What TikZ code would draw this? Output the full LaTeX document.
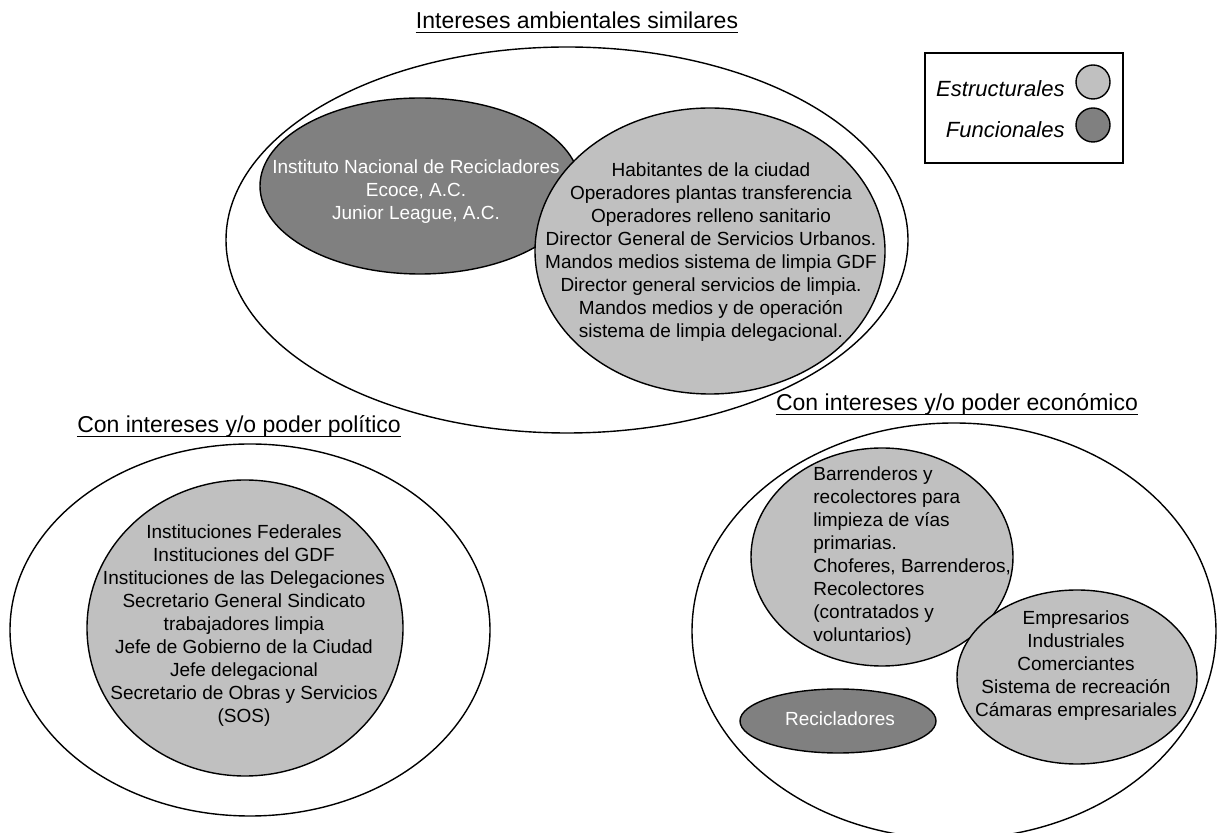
\documentclass[tikz,border=0pt]{standalone}
\usepackage{fontspec}
\setmainfont{Liberation Sans}
\usepackage{tikz}
\usetikzlibrary{shapes.geometric, calc}
\usepackage{xcolor}
\definecolor{GrisClaro}{HTML}{C0C0C0}
\definecolor{GrisOscuro}{HTML}{808080}
\tikzset{
  grupo/.style={
    ellipse, draw=black, line width=0.7pt, inner sep=0pt
  },
  estructural/.style={grupo, fill=GrisClaro},
  funcional/.style={grupo, fill=GrisOscuro},
  texto/.style={
    font=\fontsize{9.5}{11.5}\selectfont, align=center, inner sep=0pt
  },
  titulo/.style={
    font=\fontsize{11.5}{14}\selectfont, inner sep=0pt, anchor=base
  },
  subrayado/.style={line width=0.6pt}
}

\begin{document}
\begin{tikzpicture}[x=0.5pt, y=-0.5pt]

\useasboundingbox (0,0) rectangle (1217,833);

% ── Outer groups ──────────────────────────────────────────────────────────────

\node[grupo, minimum width=341pt, minimum height=193pt] (ambientales) at (567,240) {};
\node[grupo, minimum width=240pt, minimum height=186pt] (politico) at (250,630) {};
\node[grupo, minimum width=262pt, minimum height=208pt] (economico) at (954,631) {};

% ── Titles (underlined) ───────────────────────────────────────────────────────

\node[titulo] (tAmb) at (577,29) {Intereses ambientales similares};
\node[titulo] (tPol) at (239,433) {Con intereses y/o poder político};
\node[titulo] (tEco) at (957,411) {Con intereses y/o poder económico};

\draw[subrayado] ($(tAmb.base west)+(0,3.5)$) -- ($(tAmb.base east)+(0,3.5)$);
\draw[subrayado] ($(tPol.base west)+(0,3.5)$) -- ($(tPol.base east)+(0,3.5)$);
\draw[subrayado] ($(tEco.base west)+(0,3.5)$) -- ($(tEco.base east)+(0,3.5)$);

% ── Intereses ambientales ─────────────────────────────────────────────────────

\node[funcional, minimum width=160pt, minimum height=88pt] (inst) at (420,186) {};
\node[estructural, minimum width=175pt, minimum height=143pt] (habit) at (710,251) {};

\node[texto, text=white] at (416,192) {%
  Instituto Nacional de Recicladores\\
  Ecoce, A.C.\\
  Junior League, A.C.
};

\node[texto] at (711,252) {%
  Habitantes de la ciudad\\
  Operadores plantas transferencia\\
  Operadores relleno sanitario\\
  Director General de Servicios Urbanos.\\
  Mandos medios sistema de limpia GDF\\
  Director general servicios de limpia.\\
  Mandos medios y de operación\\
  sistema de limpia delegacional.
};

% ── Poder político ────────────────────────────────────────────────────────────

\node[estructural, minimum width=158pt, minimum height=148pt] (federales) at (245,628) {};

\node[texto] at (244,626) {%
  Instituciones Federales\\
  Instituciones del GDF\\
  Instituciones de las Delegaciones\\
  Secretario General Sindicato\\
  trabajadores limpia\\
  Jefe de Gobierno de la Ciudad\\
  Jefe delegacional\\
  Secretario de Obras y Servicios\\
  (SOS)
};

% ── Poder económico ───────────────────────────────────────────────────────────

\node[estructural, minimum width=131pt, minimum height=109pt] (barrenderos) at (882,557) {};
\node[estructural, minimum width=120pt, minimum height=87pt] (empresarios) at (1077,677) {};
\node[funcional, minimum width=98pt, minimum height=32pt] (recicladores) at (838,721) {};

\node[texto, align=left, anchor=west] at (813,556) {%
  Barrenderos y\\
  recolectores para\\
  limpieza de vías\\
  primarias.\\
  Choferes, Barrenderos,\\
  Recolectores\\
  (contratados y\\
  voluntarios)
};

\node[texto] at (1076,666) {%
  Empresarios\\
  Industriales\\
  Comerciantes\\
  Sistema de recreación\\
  Cámaras empresariales
};

\node[texto, text=white] at (840,719) {Recicladores};

% ── Legend ────────────────────────────────────────────────────────────────────

\node[draw=black, line width=0.7pt, minimum width=99pt, minimum height=55pt, inner sep=0pt] (leyenda) at (1024,108) {};
\node[estructural, minimum width=17pt, minimum height=17pt] (cEst) at (1093,82) {};
\node[funcional, minimum width=17pt, minimum height=17pt] (cFun) at (1093,125) {};
\node[font=\fontsize{11}{13}\selectfont\itshape, inner sep=0pt, anchor=east] at (1065,89) {Estructurales};
\node[font=\fontsize{11}{13}\selectfont\itshape, inner sep=0pt, anchor=east] at (1065,130) {Funcionales};

\end{tikzpicture}
\end{document}
